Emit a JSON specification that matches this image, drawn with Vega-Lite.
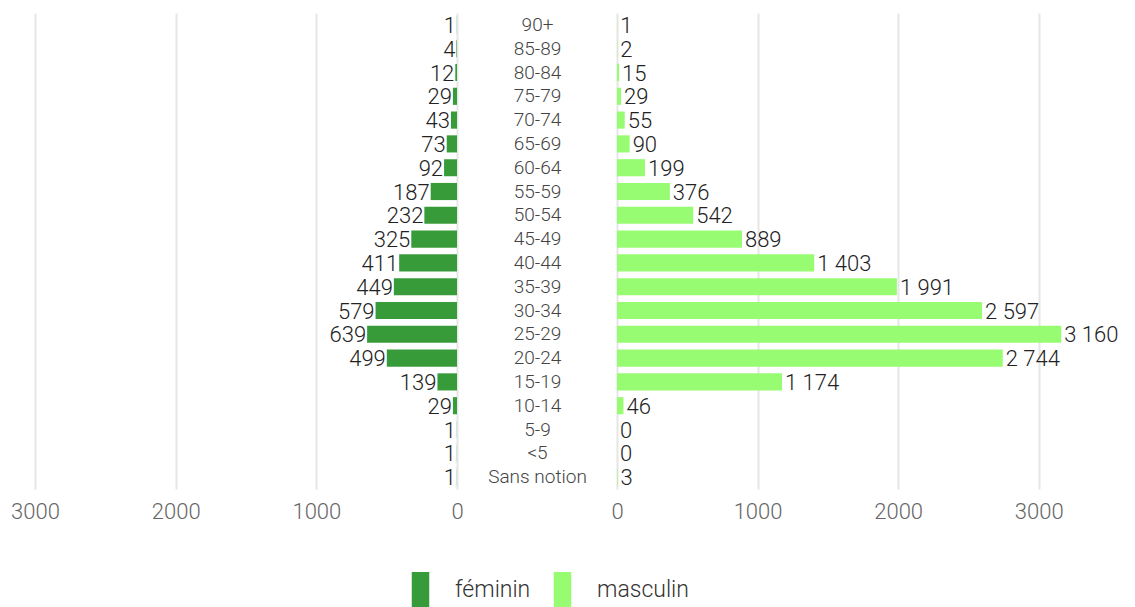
{
  "$schema": "https://vega.github.io/schema/vega-lite/v6.json",
  "padding": {"left": 0, "top": 13, "right": 0, "bottom": 0},
  "background": "white",
  "bounds": "flush",
  "spacing": 160,
  "config": {
    "font": "Roboto",
    "view": {"stroke": null},
    "locale": {"number": {"decimal": ",", "thousands": " ", "grouping": [3], "currency": ["", " €"]}},
    "axis": {"labelFont": "Roboto"}
  },
  "data": {
    "values": [
      {"age": "90+", "sexe": "féminin", "n": 1}, {"age": "85-89", "sexe": "féminin", "n": 4},
      {"age": "80-84", "sexe": "féminin", "n": 12}, {"age": "75-79", "sexe": "féminin", "n": 29},
      {"age": "70-74", "sexe": "féminin", "n": 43}, {"age": "65-69", "sexe": "féminin", "n": 73},
      {"age": "60-64", "sexe": "féminin", "n": 92}, {"age": "55-59", "sexe": "féminin", "n": 187},
      {"age": "50-54", "sexe": "féminin", "n": 232}, {"age": "45-49", "sexe": "féminin", "n": 325},
      {"age": "40-44", "sexe": "féminin", "n": 411}, {"age": "35-39", "sexe": "féminin", "n": 449},
      {"age": "30-34", "sexe": "féminin", "n": 579}, {"age": "25-29", "sexe": "féminin", "n": 639},
      {"age": "20-24", "sexe": "féminin", "n": 499}, {"age": "15-19", "sexe": "féminin", "n": 139},
      {"age": "10-14", "sexe": "féminin", "n": 29}, {"age": "5-9", "sexe": "féminin", "n": 1},
      {"age": "<5", "sexe": "féminin", "n": 1}, {"age": "Sans notion", "sexe": "féminin", "n": 1},
      {"age": "90+", "sexe": "masculin", "n": 1}, {"age": "85-89", "sexe": "masculin", "n": 2},
      {"age": "80-84", "sexe": "masculin", "n": 15}, {"age": "75-79", "sexe": "masculin", "n": 29},
      {"age": "70-74", "sexe": "masculin", "n": 55}, {"age": "65-69", "sexe": "masculin", "n": 90},
      {"age": "60-64", "sexe": "masculin", "n": 199}, {"age": "55-59", "sexe": "masculin", "n": 376},
      {"age": "50-54", "sexe": "masculin", "n": 542}, {"age": "45-49", "sexe": "masculin", "n": 889},
      {"age": "40-44", "sexe": "masculin", "n": 1403}, {"age": "35-39", "sexe": "masculin", "n": 1991},
      {"age": "30-34", "sexe": "masculin", "n": 2597}, {"age": "25-29", "sexe": "masculin", "n": 3160},
      {"age": "20-24", "sexe": "masculin", "n": 2744}, {"age": "15-19", "sexe": "masculin", "n": 1174},
      {"age": "10-14", "sexe": "masculin", "n": 46}, {"age": "5-9", "sexe": "masculin", "n": 0},
      {"age": "<5", "sexe": "masculin", "n": 0}, {"age": "Sans notion", "sexe": "masculin", "n": 3}
    ]
  },
  "resolve": {"scale": {"x": "independent", "y": "independent", "color": "shared"}},
  "hconcat": [
    {
      "width": 457,
      "height": 476,
      "transform": [{"filter": "datum.sexe === 'féminin'"}],
      "encoding": {
        "y": {"field": "age", "type": "nominal", "sort": null, "axis": null,
              "scale": {"paddingInner": 0.28, "paddingOuter": 0.14}},
        "x": {"field": "n", "type": "quantitative",
              "scale": {"domain": [0, 3249], "reverse": true, "nice": false, "zero": true},
              "axis": {"values": [0, 1000, 2000, 3000], "format": "d", "title": null,
                       "domain": false, "ticks": false, "grid": true, "gridColor": "#e6e6e6", "gridWidth": 2,
                       "labelFontSize": 22, "labelFontWeight": 300, "labelColor": "#666666", "labelPadding": 12, "labelFlush": false}}
      },
      "layer": [
        {"mark": {"type": "bar"},
         "encoding": {"color": {"field": "sexe", "type": "nominal",
           "scale": {"domain": ["féminin", "masculin"], "range": ["#389b3a", "#97fc72"]},
           "legend": {"title": null, "orient": "none", "direction": "horizontal",
                      "legendX": 403, "legendY": 559,
                      "symbolType": "M-0.5,-1h1v2h-1Z", "symbolSize": 1225, "symbolStrokeWidth": 0, "symbolOpacity": 1,
                      "labelFontSize": 23, "labelColor": "#333333", "labelFont": "Roboto", "labelFontWeight": 300,
                      "labelOffset": 17, "columnPadding": 14}}}},
        {"mark": {"type": "text", "align": "right", "baseline": "middle", "dx": -1, "dy": 1, "fontSize": 22, "fontWeight": 300, "color": "#222222"},
         "encoding": {"text": {"field": "n", "type": "quantitative", "format": ",d"}}}
      ]
    },
    {
      "width": 492,
      "height": 476,
      "transform": [{"filter": "datum.sexe === 'masculin'"}],
      "encoding": {
        "y": {"field": "age", "type": "nominal", "sort": null,
              "scale": {"paddingInner": 0.28, "paddingOuter": 0.14},
              "axis": {"title": null, "orient": "left", "domain": false, "ticks": false, "grid": false,
                       "labelAlign": "center", "labelPadding": 80, "labelFontSize": 19, "labelFontWeight": 300, "labelColor": "#444444", "labelBaseline": "middle"}},
        "x": {"field": "n", "type": "quantitative",
              "scale": {"domain": [0, 3500], "nice": false, "zero": true},
              "axis": {"values": [0, 1000, 2000, 3000], "format": "d", "title": null,
                       "domain": false, "ticks": false, "grid": true, "gridColor": "#e6e6e6", "gridWidth": 2,
                       "labelFontSize": 22, "labelFontWeight": 300, "labelColor": "#666666", "labelPadding": 12, "labelFlush": false}}
      },
      "layer": [
        {"mark": {"type": "bar"},
         "encoding": {"color": {"field": "sexe", "type": "nominal",
           "scale": {"domain": ["féminin", "masculin"], "range": ["#389b3a", "#97fc72"]}}}},
        {"mark": {"type": "text", "align": "left", "baseline": "middle", "dx": 3, "dy": 1, "fontSize": 22, "fontWeight": 300, "color": "#222222"},
         "encoding": {"text": {"field": "n", "type": "quantitative", "format": ",d"}}}
      ]
    }
  ]
}
